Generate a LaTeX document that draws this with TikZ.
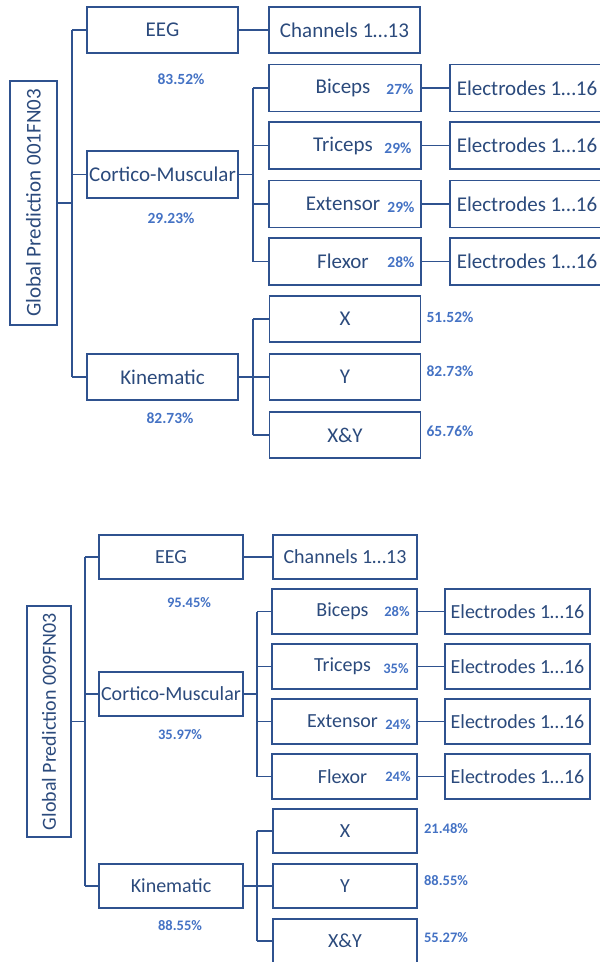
\documentclass[tikz,border=0pt]{standalone}
\usepackage{fontspec}
\setmainfont{Carlito}
\usepackage{xcolor}
\usepackage{tikz}
\usetikzlibrary{positioning}

\definecolor{lineblue}{HTML}{2F528F}
\definecolor{textblue}{HTML}{2B4A7C}
\definecolor{pctblue}{HTML}{4472C4}

\begin{document}
\begin{tikzpicture}[x=1pt,y=-1pt]
		\tikzset{
			box/.style={rectangle, draw=lineblue, line width=1.8pt, text=textblue, align=center,
			inner sep=0pt, minimum width=151pt, minimum height=46pt,
			font=\fontsize{21}{25}\selectfont},
			sbox/.style={box, minimum width=144pt, minimum height=44pt,
			font=\fontsize{20}{24}\selectfont},
			rootbox/.style={box, rotate=90},
			pct/.style={text=pctblue, inner sep=0pt, font=\bfseries\fontsize{15.5}{18}\selectfont},
			spct/.style={pct, font=\bfseries\fontsize{14.5}{17}\selectfont},
			wire/.style={draw=lineblue, line width=1.8pt},
		}
		\clip (0,0) rectangle (600,962);

		% --- 001FN03 ---
		\node[rootbox, minimum width=244pt, minimum height=47pt](root1) at (33.5,203){Global Prediction 001FN03};
		\node[box](eeg1) at (162.5,30){EEG};
		\node[box](ch1) at (344.5,30){Channels 1\ldots13};
		\node[box, minimum height=47pt](cm1) at (162.5,174.5){Cortico-Muscular};
		\node[box](kin1) at (162.5,377){Kinematic};

		\node[box, minimum width=152pt, minimum height=47pt](bic1) at (345,88){\hspace*{-4pt}Biceps};
		\node[box, minimum width=152pt, minimum height=47pt](tri1) at (345,145.5){\hspace*{-4pt}Triceps};
		\node[box, minimum width=152pt, minimum height=47pt](ext1) at (345,204){\hspace*{-4pt}Extensor};
		\node[box, minimum width=152pt, minimum height=47pt](flx1) at (345,261.5){\hspace*{-4pt}Flexor};
		\foreach \m/\y in {bic1/88,tri1/145.5,ext1/204,flx1/261.5}
			\node[box, minimum width=154pt, minimum height=47pt](el\m) at (527,\y){Electrodes 1\ldots16};

		\node[box](x1) at (345,319){X};
		\node[box](y1) at (345,377){Y};
		\node[box](xy1) at (345,435){X\&Y};

		\node[pct](p-eeg1) at (181,79){83.52\%};
		\node[pct](p-cm1) at (171,218){29.23\%};
		\node[pct](p-kin1) at (170,418){82.73\%};
		\node[pct](p-bic1) at (400,89){27\%};
		\node[pct](p-tri1) at (398,148){29\%};
		\node[pct](p-ext1) at (401,207){29\%};
		\node[pct](p-flx1) at (401,262){28\%};
		\node[pct](p-x1) at (450,317){51.52\%};
		\node[pct](p-y1) at (450,371){82.73\%};
		\node[pct](p-xy1) at (450,431){65.76\%};

		\coordinate(tr1) at (72,0);
		\coordinate(cmj1) at (253,0);
		\draw[wire](root1.south) -- (root1.south -| tr1);
		\draw[wire](tr1 |- eeg1) -- (tr1 |- kin1);
		\foreach \n in {eeg1,cm1,kin1}
			\draw[wire](tr1 |- \n) -- (\n.west);
		\draw[wire](eeg1) -- (ch1);
		\draw[wire](cm1) -- (cmj1 |- cm1);
		\draw[wire](cmj1 |- bic1) -- (cmj1 |- flx1);
		\foreach \n in {bic1,tri1,ext1,flx1}{
			\draw[wire](cmj1 |- \n) -- (\n.west);
			\draw[wire](\n) -- (el\n);
		}
		\draw[wire](kin1) -- (cmj1 |- kin1);
		\draw[wire](cmj1 |- x1) -- (cmj1 |- xy1);
		\foreach \n in {x1,y1,xy1}
			\draw[wire](cmj1 |- \n) -- (\n.west);

		% --- 009FN03 ---
		\node[rootbox, minimum width=231pt, minimum height=44pt, font=\fontsize{20}{24}\selectfont](root2) at (49,721.5){Global Prediction 009FN03};
		\node[sbox](eeg2) at (171,557){EEG};
		\node[sbox](ch2) at (345,557){Channels 1\ldots13};
		\node[sbox](cm2) at (171,694){Cortico-Muscular};
		\node[sbox](kin2) at (171,886){Kinematic};

		\node[sbox, minimum width=145pt, minimum height=45pt](bic2) at (344.5,611.5){\hspace*{-4pt}Biceps};
		\node[sbox, minimum width=145pt, minimum height=45pt](tri2) at (344.5,666.5){\hspace*{-4pt}Triceps};
		\node[sbox, minimum width=145pt, minimum height=45pt](ext2) at (344.5,721.5){\hspace*{-4pt}Extensor};
		\node[sbox, minimum width=145pt, minimum height=45pt](flx2) at (344.5,776.5){\hspace*{-4pt}Flexor};
		\foreach \m/\y in {bic2/611.5,tri2/666.5,ext2/721.5,flx2/776.5}
			\node[sbox, minimum width=145pt, minimum height=45pt](el\m) at (517.5,\y){Electrodes 1\ldots16};

		\node[sbox](x2) at (345,831){X};
		\node[sbox](y2) at (345,886){Y};
		\node[sbox](xy2) at (345,941){X\&Y};

		\node[spct](p-eeg2) at (189,603){95.45\%};
		\node[spct](p-cm2) at (180,735){35.97\%};
		\node[spct](p-kin2) at (180,926){88.55\%};
		\node[spct](p-bic2) at (397,612){28\%};
		\node[spct](p-tri2) at (396,669){35\%};
		\node[spct](p-ext2) at (398,725){24\%};
		\node[spct](p-flx2) at (398,777){24\%};
		\node[spct](p-x2) at (446,829){21.48\%};
		\node[spct](p-y2) at (446,881){88.55\%};
		\node[spct](p-xy2) at (446,938){55.27\%};

		\coordinate(tr2) at (85,0);
		\coordinate(cmj2) at (257,0);
		\draw[wire](root2.south) -- (root2.south -| tr2);
		\draw[wire](tr2 |- eeg2) -- (tr2 |- kin2);
		\foreach \n in {eeg2,cm2,kin2}
			\draw[wire](tr2 |- \n) -- (\n.west);
		\draw[wire](eeg2) -- (ch2);
		\draw[wire](cm2) -- (cmj2 |- cm2);
		\draw[wire](cmj2 |- bic2) -- (cmj2 |- flx2);
		\foreach \n in {bic2,tri2,ext2,flx2}{
			\draw[wire](cmj2 |- \n) -- (\n.west);
			\draw[wire](\n) -- (el\n);
		}
		\draw[wire](kin2) -- (cmj2 |- kin2);
		\draw[wire](cmj2 |- x2) -- (cmj2 |- xy2);
		\foreach \n in {x2,y2,xy2}
			\draw[wire](cmj2 |- \n) -- (\n.west);

	\end{tikzpicture}
\end{document}
